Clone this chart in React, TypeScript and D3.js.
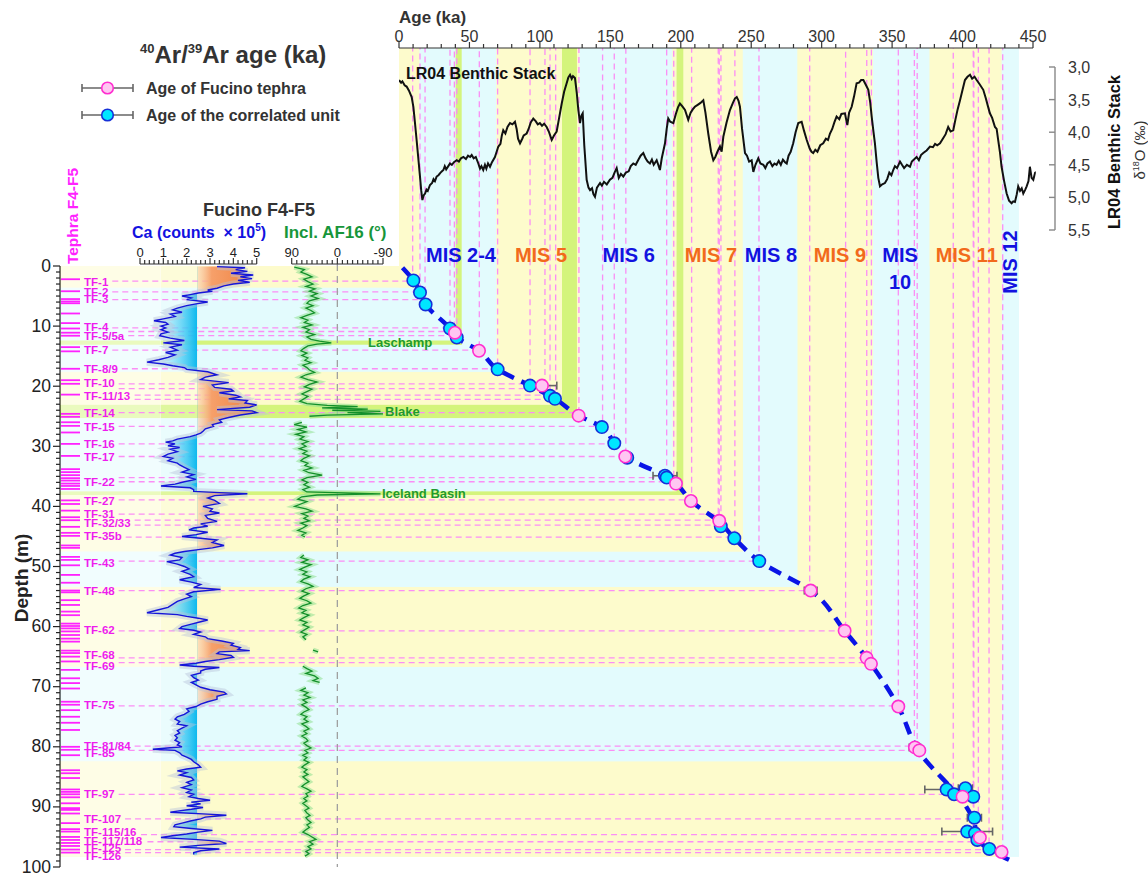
import React from "react";
import * as d3 from "d3";

const FONT = "'Liberation Sans', Arial, Helvetica, sans-serif";

// ---------- DATA ----------
// MIS stages: age range (ka) and depth range (m) in the Fucino core
const misStages = [
  { a1: 0, a2: 14.5, d1: 0, d2: 3.6, warm: true },
  { a1: 14.5, a2: 69, d1: 3.6, d2: 17.6, warm: false },
  { a1: 69, a2: 128, d1: 17.6, d2: 25.3, warm: true },
  { a1: 128, a2: 194, d1: 25.3, d2: 37.8, warm: false },
  { a1: 194, a2: 244, d1: 37.8, d2: 47.5, warm: true },
  { a1: 244, a2: 282.7, d1: 47.5, d2: 53.4, warm: false },
  { a1: 282.7, a2: 336.5, d1: 53.4, d2: 66.7, warm: true },
  { a1: 336.5, a2: 376.5, d1: 66.7, d2: 82.4, warm: false },
  { a1: 376.5, a2: 427.7, d1: 82.4, d2: 98.3, warm: true },
  { a1: 427.7, a2: 440, d1: 98.3, d2: 98.3, warm: false },
];

const misLabels = [
  { text: "MIS 2-4", age: 44, warm: false },
  { text: "MIS 5", age: 100.8, warm: true },
  { text: "MIS 6", age: 163, warm: false },
  { text: "MIS 7", age: 221.4, warm: true },
  { text: "MIS 8", age: 264, warm: false },
  { text: "MIS 9", age: 313, warm: true },
  { text: "MIS 10", age: 355.6, warm: false },
  { text: "MIS 11", age: 403, warm: true },
  { text: "MIS 12", age: 433.6, warm: false },
];

// geomagnetic excursions
const excursions = [
  { name: "Laschamp", a1: 40.2, a2: 44.5, d1: 12.4, d2: 13.1 },
  { name: "Blake", a1: 115.7, a2: 126.3, d1: 23.1, d2: 25.3 },
  { name: "Iceland Basin", a1: 197, a2: 201.8, d1: 37.5, d2: 38.1 },
];

// LR04 benthic stack [age ka, d18O permil]
const lr04: [number, number][] = [
  [0, 3.2], [1.5, 3.24], [2.4, 3.22], [4, 3.28], [5.4, 3.3], [7, 3.36], [9, 3.46], [10.2, 3.61],
  [11.3, 3.85], [12.5, 4.12], [13.7, 4.4], [14.9, 4.68], [15.8, 4.9], [16.6, 5.04], [17.5, 4.97],
  [18.5, 4.94], [19.5, 4.88], [20.4, 4.9], [22, 4.81], [23.5, 4.78], [24.5, 4.72], [25.5, 4.75],
  [26.7, 4.68], [28, 4.66], [29.5, 4.62], [30.5, 4.6], [31.5, 4.58], [32.5, 4.52], [33.5, 4.57],
  [35, 4.52], [36.2, 4.48], [37.5, 4.5], [39, 4.46], [41, 4.43], [42.5, 4.45], [44, 4.4],
  [45.7, 4.38], [47.5, 4.41], [49, 4.36], [50.5, 4.38], [51.6, 4.35], [53, 4.4], [54.5, 4.38],
  [56.3, 4.48], [57.5, 4.56], [58.5, 4.52], [59.8, 4.58], [61, 4.5], [62, 4.56], [63.2, 4.48],
  [64.6, 4.53], [66, 4.46], [68.1, 4.38], [69.3, 4.3], [70.5, 4.22], [72, 4.18], [73, 4.05],
  [74, 3.97], [75.5, 4.02], [77, 3.92], [78.8, 3.86], [80.5, 3.88], [82.3, 3.84], [83.5, 3.95],
  [84.5, 4.1], [85.9, 4.17], [87.5, 4.1], [88.5, 4.05], [90.6, 4.02], [92, 3.95], [93.5, 3.85],
  [95.3, 3.79], [97, 3.83], [98.5, 3.88], [100, 3.86], [101.5, 3.9], [103, 3.87], [104.8, 3.92],
  [106.5, 4.0], [108.4, 4.12], [110, 4.05], [111.9, 3.99], [113.5, 3.8], [115.5, 3.56],
  [117.2, 3.38], [119, 3.25], [120.2, 3.16], [121.4, 3.12], [122.6, 3.18], [123.5, 3.14],
  [124.9, 3.17], [126.2, 3.4], [127.3, 3.66], [128.5, 3.86], [129.4, 3.75], [130.4, 3.71],
  [131.5, 4.2], [133.2, 4.73], [134.5, 4.85], [135.6, 4.89], [137, 4.86], [138, 4.95],
  [139.1, 4.99], [140.5, 4.85], [142.7, 4.78], [144, 4.82], [145.5, 4.76], [147.5, 4.8],
  [149.7, 4.73], [151.5, 4.7], [153, 4.62], [154.5, 4.55], [156, 4.7], [157.5, 4.64],
  [159.2, 4.68], [161, 4.62], [163, 4.6], [164.5, 4.52], [166.3, 4.48], [168, 4.5], [170, 4.42],
  [171.5, 4.36], [173.4, 4.32], [175, 4.4], [176.5, 4.45], [178.1, 4.48], [179.5, 4.42],
  [180.8, 4.5], [182.9, 4.43], [184, 4.5], [185.2, 4.58], [186.5, 4.4], [188.8, 4.17],
  [190, 3.95], [191.1, 3.79], [192.5, 3.84], [194.7, 3.86], [196.5, 3.72], [198, 3.62],
  [199.4, 3.56], [201, 3.6], [203, 3.66], [205.3, 3.81], [207, 3.7], [208.5, 3.65], [210, 3.61],
  [212, 3.58], [214, 3.55], [216, 3.51], [217.5, 3.7], [219.5, 4.02], [221.5, 4.3], [223.1, 4.43],
  [224.5, 4.38], [226, 4.3], [227.8, 4.22], [229, 4.3], [230.2, 4.07], [232.5, 3.85], [234.9, 3.66],
  [237, 3.55], [238.5, 3.48], [239.7, 3.46], [241, 3.52], [242, 3.61], [243.5, 3.95], [245.6, 4.32],
  [247, 4.36], [248.5, 4.45], [250.3, 4.43], [251.5, 4.61], [253, 4.5], [255, 4.4], [256.5, 4.48],
  [258.6, 4.5], [260, 4.55], [261.5, 4.48], [263.3, 4.45], [265, 4.52], [266.5, 4.48], [268, 4.5],
  [269.5, 4.44], [271, 4.5], [272.5, 4.42], [274, 4.46], [275.2, 4.48], [276.5, 4.36],
  [278, 4.3], [279.8, 4.17], [281.5, 4.0], [283.4, 3.86], [285.8, 3.84], [287.5, 3.98],
  [289.4, 4.12], [291.5, 4.25], [292.8, 4.3], [294, 4.32], [295.5, 4.27], [297, 4.3],
  [299, 4.2], [301.1, 4.17], [303, 4.1], [304.5, 4.12], [305.9, 4.02], [307.5, 3.95],
  [309, 3.85], [310.6, 3.76], [312.5, 3.8], [314, 3.72], [316.5, 3.71], [318.2, 3.89],
  [319.5, 3.7], [321.3, 3.61], [323, 3.45], [324.8, 3.25], [326.5, 3.24], [328, 3.2],
  [329.6, 3.2], [331.5, 3.28], [333.1, 3.35], [334.5, 3.55], [335.5, 3.76], [336.8, 4.0],
  [337.8, 4.17], [339, 4.45], [340.2, 4.7], [341.4, 4.83], [343, 4.8], [344.9, 4.78],
  [346.5, 4.72], [348, 4.62], [349.5, 4.66], [350.8, 4.58], [352, 4.52], [353.5, 4.55],
  [355.6, 4.45], [357, 4.5], [358.5, 4.55], [360.5, 4.5], [362.7, 4.53], [364, 4.45],
  [365.5, 4.42], [367.4, 4.38], [369, 4.43], [370.5, 4.35], [372.1, 4.32], [374.5, 4.28],
  [376.9, 4.22], [379, 4.23], [380.5, 4.18], [382, 4.2], [384, 4.17], [386, 4.1], [388, 4.03],
  [389.8, 3.92], [391.5, 3.99], [393.4, 3.97], [395, 3.8], [396.5, 3.65], [398.2, 3.51],
  [400, 3.35], [401.7, 3.2], [403.5, 3.15], [405.3, 3.12], [406.8, 3.18], [408.5, 3.15],
  [410, 3.2], [412, 3.26], [414.7, 3.35], [416.5, 3.48], [418, 3.6], [419.4, 3.71],
  [421, 3.78], [423, 3.92], [424.2, 3.95], [425.3, 4.12], [426.5, 4.3], [427.7, 4.53],
  [429.5, 4.75], [431.3, 4.94], [433, 5.05], [434.8, 5.09], [436, 5.06], [437.2, 5.07],
  [438.5, 4.95], [439.5, 4.83], [440.8, 4.9], [442, 4.86], [443.1, 4.94], [444.5, 4.88],
  [445.5, 4.83], [446.8, 4.75], [447.8, 4.53], [449, 4.7], [450.2, 4.73], [451.5, 4.62],
  [452.6, 4.61],
];

// Ca XRF [depth m, counts x1e5]
const caData: [number, number][] = [
  [0.1, 3.3], [0.3, 4.5], [0.6, 4.1], [0.9, 4.6], [1.2, 3.9], [1.5, 4.85], [1.8, 4.3], [2.1, 4.8],
  [2.4, 4.2], [2.7, 4.7], [3.0, 4.0], [3.3, 3.6], [3.7, 3.3], [4.0, 2.9], [4.2, 3.1], [4.5, 2.5],
  [4.8, 2.1], [5.0, 1.8], [5.3, 2.2], [5.6, 2.0], [6.0, 2.9], [6.3, 2.4], [6.6, 2.0], [7.0, 1.6],
  [7.3, 1.4], [7.7, 1.8], [8.0, 1.3], [8.4, 1.5], [8.8, 1.0], [9.1, 0.6], [9.4, 1.1], [9.7, 1.2],
  [10.0, 0.9], [10.3, 1.1], [10.6, 0.9], [11.0, 1.2], [11.3, 0.9], [11.6, 0.85], [12.0, 1.3],
  [12.4, 1.9], [12.8, 1.0], [13.1, 1.8], [13.5, 1.3], [14.0, 1.6], [14.4, 1.1], [14.8, 1.5],
  [15.2, 1.2], [15.6, 0.8], [16.0, 0.3], [16.3, 1.0], [16.6, 1.4], [16.9, 1.9], [17.2, 2.0],
  [17.6, 2.9], [18.1, 3.3], [18.5, 2.8], [18.9, 2.6], [19.4, 3.8], [19.8, 3.1], [20.2, 3.2],
  [20.5, 3.9], [20.8, 4.0], [21.1, 3.4], [21.5, 4.1], [21.8, 4.3], [22.1, 3.8], [22.4, 4.6],
  [22.8, 4.5], [23.1, 5.0], [23.5, 4.7], [23.9, 3.3], [24.1, 4.8], [24.4, 5.0], [24.8, 4.3],
  [25.2, 3.8], [25.6, 3.4], [26.0, 3.5], [26.4, 3.1], [26.7, 3.15], [27.1, 2.8], [27.5, 2.7],
  [27.8, 2.6], [28.1, 2.4], [28.4, 2.15], [28.8, 1.6], [29.1, 1.4], [29.3, 1.1], [29.6, 1.5],
  [29.9, 1.2], [30.2, 1.7], [30.5, 1.3], [30.9, 1.6], [31.3, 1.2], [31.7, 1.0], [32.0, 1.4],
  [32.4, 1.2], [32.8, 1.6], [33.1, 1.7], [33.5, 1.9], [33.9, 2.1], [34.3, 1.8], [34.7, 2.3],
  [35.1, 2.0], [35.5, 2.4], [35.9, 1.9], [36.3, 1.5], [36.6, 0.9], [36.9, 2.15], [37.2, 2.3],
  [37.5, 2.3], [37.7, 3.4], [37.9, 4.6], [38.2, 3.2], [38.6, 2.9], [39.0, 3.2], [39.5, 3.4],
  [40.0, 2.7], [40.4, 3.1], [40.8, 3.0], [41.1, 3.4], [41.5, 2.8], [42.0, 2.9], [42.5, 3.3],
  [42.9, 2.6], [43.3, 2.9], [43.6, 2.3], [43.9, 2.1], [44.3, 2.9], [44.7, 2.4], [45.0, 1.8],
  [45.3, 2.6], [45.6, 3.3], [46.0, 3.1], [46.5, 3.6], [46.9, 3.1], [47.2, 2.5], [47.5, 1.9],
  [47.8, 1.5], [48.1, 1.3], [48.5, 1.8], [48.9, 1.7], [49.2, 1.15], [49.6, 1.6], [50.0, 1.9],
  [50.4, 2.1], [50.8, 1.8], [51.3, 2.15], [51.7, 2.3], [52.2, 1.7], [52.6, 2.2], [53.0, 2.6],
  [53.5, 2.3], [53.8, 3.45], [54.2, 2.3], [54.6, 2.0], [55.0, 2.2], [55.4, 1.9], [55.8, 1.6],
  [56.3, 1.4], [56.8, 1.2], [57.2, 0.8], [57.7, 0.3], [58.0, 1.6], [58.3, 2.0], [58.6, 2.5],
  [58.9, 2.9], [59.2, 2.6], [59.6, 2.2], [60.0, 1.8], [60.3, 1.7], [60.6, 2.3], [60.9, 2.6],
  [61.3, 2.3], [61.7, 2.8], [62.0, 2.9], [62.4, 3.5], [62.8, 4.0], [63.1, 3.9], [63.5, 4.3],
  [63.8, 4.2], [64.0, 4.7], [64.2, 3.4], [64.5, 3.3], [64.8, 3.9], [65.1, 4.0], [65.5, 3.4],
  [65.8, 2.8], [66.1, 2.4], [66.4, 1.7], [66.6, 2.3], [66.8, 3.4], [67.1, 2.8], [67.4, 2.6],
  [67.7, 2.6], [68.1, 2.2], [68.5, 2.3], [68.9, 2.5], [69.3, 2.2], [69.7, 2.4], [70.1, 2.6],
  [70.5, 3.0], [70.9, 3.6], [71.2, 3.7], [71.6, 3.3], [72.1, 3.3], [72.5, 2.9], [72.9, 2.6],
  [73.3, 2.4], [73.7, 2.0], [74.1, 2.1], [74.6, 1.9], [75.0, 1.6], [75.4, 1.5], [75.8, 1.7],
  [76.2, 1.6], [76.5, 2.0], [76.9, 1.8], [77.3, 1.6], [77.7, 1.7], [78.1, 1.5], [78.5, 1.6],
  [78.9, 1.5], [79.3, 1.7], [79.7, 1.6], [80.0, 1.8], [80.4, 0.55], [80.6, 1.5], [81.0, 1.7],
  [81.4, 1.8], [81.7, 2.0], [82.1, 2.2], [82.5, 2.3], [83.0, 2.5], [83.4, 2.6], [83.7, 2.0],
  [84.0, 1.6], [84.3, 2.0], [84.7, 1.7], [85.1, 2.2], [85.5, 2.3], [85.9, 2.0], [86.3, 2.2],
  [86.8, 1.8], [87.2, 2.2], [87.6, 2.0], [87.9, 2.3], [88.3, 2.1], [88.6, 2.5], [88.9, 3.0],
  [89.2, 2.2], [89.5, 2.6], [89.8, 2.0], [90.1, 2.7], [90.4, 2.2], [90.7, 1.6], [90.9, 1.3],
  [91.2, 2.9], [91.4, 3.7], [91.7, 2.8], [92.0, 2.6], [92.3, 2.2], [92.7, 1.8], [93.0, 1.5],
  [93.3, 1.45], [93.6, 2.2], [93.9, 3.1], [94.2, 2.5], [94.5, 2.0], [94.8, 1.4], [95.1, 0.9],
  [95.4, 2.3], [95.7, 3.4], [96.1, 3.7], [96.4, 2.5], [96.7, 1.7], [97.0, 3.4], [97.3, 2.6],
  [97.6, 2.3], [97.9, 2.3],
];
const caBaseline = 2.45;

// Inclination AF16 [depth m, incl deg]; NaN marks a gap
const inclData: [number, number][] = [
  [0.2, 85], [0.6, 65], [1.0, 72], [1.4, 60], [1.8, 50], [2.2, 66], [2.6, 58], [3.0, 48], [3.4, 62],
  [3.8, 44], [4.2, 55], [4.6, 40], [5.0, 52], [5.4, 38], [5.8, 55], [6.2, 60], [6.6, 48], [7.0, 62],
  [7.4, 52], [7.8, 45], [8.2, 60], [8.6, 72], [9.0, 58], [9.4, 65], [9.8, 50], [10.2, 68], [10.6, 55],
  [11.0, 62], [11.4, 45], [11.8, 60], [12.2, 52], [12.5, 35], [12.8, 12], [13.0, 40], [13.3, 58],
  [13.7, 66], [14.1, 72], [14.5, 60], [14.9, 70], [15.3, 58], [15.7, 64], [16.1, 52], [16.5, 68],
  [16.9, 60], [17.3, 55], [17.7, 45], [18.1, 62], [18.5, 72], [18.9, 58], [19.3, 40], [19.7, 55],
  [20.1, 65], [20.5, 50], [20.9, 60], [21.3, 70], [21.7, 58], [22.1, 66], [22.5, 74], [22.9, 60],
  [23.2, 20], [23.4, -40], [23.6, 30], [23.8, -60], [24.0, 10], [24.2, -85], [24.4, -20],
  [24.6, -90], [24.8, 20], [25.0, 55], [NaN, NaN],
  [26.0, 70], [26.4, 85], [26.8, 60], [27.2, 78], [27.6, 62], [28.0, 82], [28.4, 66], [28.8, 74],
  [29.2, 58], [29.6, 70], [30.0, 62], [30.4, 75], [30.8, 60], [31.2, 68], [31.6, 55], [32.0, 66],
  [32.4, 72], [32.8, 58], [33.2, 64], [33.6, 50], [34.0, 66], [34.4, 56], [34.8, 30], [35.2, 60],
  [35.6, 70], [36.0, 58], [36.4, 66], [36.8, 55], [37.2, 68], [37.6, 60], [37.9, -85], [38.1, 40],
  [38.4, 70], [38.8, 78], [39.2, 60], [39.6, 72], [40.0, 84], [40.4, 62], [40.8, 50], [41.2, 70],
  [41.6, 58], [42.0, 66], [42.4, 55], [42.8, 72], [43.2, 60], [43.6, 68], [44.0, 78], [44.4, 62],
  [44.8, 70], [45.1, 64], [NaN, NaN],
  [48.1, 66], [48.5, 72], [48.9, 58], [49.3, 70], [49.7, 52], [50.1, 64], [50.5, 74], [50.9, 60],
  [51.3, 68], [51.7, 54], [52.1, 66], [52.5, 72], [52.9, 58], [53.3, 48], [53.7, 62], [54.1, 70],
  [54.5, 56], [54.9, 66], [55.3, 74], [55.7, 60], [56.1, 52], [56.5, 68], [56.9, 76], [57.3, 62],
  [57.7, 70], [58.1, 56], [58.5, 66], [58.9, 74], [59.3, 60], [59.7, 68], [60.1, 56], [60.5, 64],
  [60.9, 72], [61.3, 60], [61.7, 68], [62.2, 62], [NaN, NaN],
  [63.9, 48], [64.2, 38], [NaN, NaN],
  [66.6, 68], [67.0, 60], [67.4, 50], [67.8, 62], [68.2, 45], [68.6, 38], [69.0, 48], [69.3, 35],
  [NaN, NaN],
  [70.2, 62], [70.6, 72], [71.0, 58], [71.4, 66], [71.8, 54], [72.2, 68], [72.6, 60], [73.0, 70],
  [73.4, 62], [73.8, 56], [74.2, 66], [74.6, 72], [75.0, 60], [75.4, 66], [75.8, 58], [76.2, 70],
  [76.6, 62], [77.0, 56], [77.4, 66], [77.8, 60], [78.2, 70], [78.6, 62], [79.0, 58], [79.4, 66],
  [79.8, 60], [80.2, 52], [80.6, 64], [81.0, 58], [81.4, 68], [81.8, 60], [82.2, 66], [82.6, 56],
  [83.0, 64], [83.4, 70], [83.8, 60], [84.2, 66], [84.6, 58], [85.0, 68], [85.4, 62], [85.8, 56],
  [86.2, 64], [86.6, 70], [87.0, 60], [87.4, 52], [87.8, 62], [88.2, 58], [88.6, 66], [89.0, 60],
  [89.4, 68], [89.8, 62], [90.2, 56], [90.6, 64], [91.0, 60], [91.4, 54], [91.8, 62], [92.2, 58],
  [92.6, 52], [93.0, 60], [93.4, 55], [93.8, 62], [94.2, 68], [94.6, 58], [95.0, 50], [95.4, 42],
  [95.8, 55], [96.2, 48], [96.6, 58], [97.0, 52], [97.4, 62], [97.8, 56], [98.2, 64],
];

// all tephra layers (depth m) in F4-F5
const tephraDepths = [
  2.2, 4.2, 5.5, 5.9, 6.2, 7.9, 9.5, 10.4, 11.1, 11.6, 13.5, 14.2, 17.1, 19.0, 19.6, 21.4, 24.6,
  25.1, 26.0, 26.6, 27.7, 29.6, 31.6, 33.8, 34.3, 34.8, 35.3, 35.7, 36.2, 36.6, 37.1, 39.0, 39.6,
  40.7, 41.8, 42.3, 43.4, 44.4, 44.9, 46.5, 46.9, 48.4, 48.9, 49.8, 51.4, 52.7, 54.0, 54.3, 55.6,
  56.4, 57.5, 58.1, 59.5, 59.9, 60.3, 60.8, 61.4, 62.0, 62.5, 64.0, 64.4, 65.0, 65.8, 67.2, 68.6,
  69.4, 70.3, 72.5, 73.0, 73.9, 75.0, 76.0, 77.2, 80.0, 80.5, 81.4, 83.9, 84.4, 85.2, 87.1, 87.5,
  87.9, 88.4, 89.4, 90.2, 90.5, 91.1, 92.7, 93.7, 94.1, 95.0, 95.5, 96.0, 96.5, 97.1, 97.6,
];

// labelled tephra [name, depth]
const tephraLabels: [string, number][] = [
  ["TF-1", 2.6], ["TF-2", 4.3], ["TF-3", 5.5], ["TF-4", 10.1], ["TF-5/5a", 11.6], ["TF-7", 14.0],
  ["TF-8/9", 17.1], ["TF-10", 19.5], ["TF-11/13", 21.6], ["TF-14", 24.4], ["TF-15", 26.8],
  ["TF-16", 29.7], ["TF-17", 31.7], ["TF-22", 35.9], ["TF-27", 39.1], ["TF-31", 41.3],
  ["TF-32/33", 42.8], ["TF-35b", 44.9], ["TF-43", 49.4], ["TF-48", 54.1], ["TF-62", 60.6],
  ["TF-68", 64.7], ["TF-69", 66.6], ["TF-75", 73.0], ["TF-81/84", 79.9], ["TF-85", 81.1],
  ["TF-97", 87.9], ["TF-107", 92.0], ["TF-115/16", 94.2], ["TF-117/118", 95.6], ["TF-125", 96.9],
  ["TF-126", 98.2],
];

// correlation lines [depth m, age ka]
const tephraLinks: [number, number][] = [
  [2.5, 9.7], [4.3, 14.9], [5.6, 18.5], [10.3, 36.2], [10.9, 39.3], [11.6, 41], [14.0, 57], [17.1, 70],
  [19.6, 93], [20.4, 103.6], [21.5, 107.2], [22.2, 111.2], [24.4, 127.7], [26.7, 144.5], [29.6, 152.8],
  [31.7, 161], [35.2, 190], [35.9, 195], [38.9, 207.7], [41.3, 226.6], [42.3, 227.3], [43.1, 228.5],
  [45.1, 238.4], [49.1, 255.5], [54.0, 291.5], [60.7, 317], [65.2, 332], [66.0, 335.3], [73.2, 354.4],
  [79.9, 365.8], [80.6, 367.8], [87.9, 393.4], [92.0, 408], [94.6, 407.6], [95.8, 411.2],
  [97.1, 418.8], [97.6, 428.5],
];

// correlated-unit ages (cyan) [depth, age, err]
const unitAges: [number, number, number][] = [
  [2.4, 10.2, 0], [4.4, 14.9, 0], [6.4, 18.9, 0], [10.4, 36.2, 0], [11.9, 41, 0], [17.2, 70, 0],
  [19.9, 93, 0], [21.6, 107.2, 0], [22.1, 110.7, 0], [26.8, 144, 0], [29.5, 152.8, 0], [31.9, 162, 0],
  [34.9, 188.8, 8.5], [35.2, 190, 0], [43.3, 228.4, 0], [45.3, 238, 0], [49.1, 255.7, 0],
  [87.1, 388.7, 15.5], [87.9, 394, 0], [86.9, 402, 5], [88.3, 407.6, 3], [91.8, 408.4, 5],
  [94.1, 403.3, 18], [94.4, 408.8, 0], [95.5, 410.5, 0], [97.0, 419, 0],
];

// Fucino tephra 40Ar/39Ar ages (pink) [depth, age, err]
const tephraAges: [number, number, number][] = [
  [11.1, 39.7, 0], [14.1, 56.8, 0], [19.9, 101.5, 10.5], [24.9, 127.5, 0], [31.7, 160.6, 0],
  [36.2, 196.6, 0], [39.1, 207.2, 3.5], [42.4, 227.3, 0], [54.0, 292.2, 4.5], [60.7, 316.3, 0],
  [65.2, 331.9, 0], [66.2, 335, 0], [73.3, 354.4, 0], [80.1, 366.2, 4], [80.6, 369.3, 0],
  [88.3, 400, 0], [95.1, 412.3, 0], [97.5, 427.7, 0],
];

// age-depth model [depth, age]
const ageModel: [number, number][] = [
  [0.3, 2.5], [2.4, 10.2], [4.4, 14.9], [6.4, 18.9], [10.4, 36.2], [11.9, 41], [14.1, 56.8],
  [17.2, 70], [19.9, 93], [22.1, 110.7], [24.9, 127.5], [26.8, 144], [29.5, 152.8], [31.8, 161.5],
  [35.0, 189], [36.2, 196.6], [39.1, 207.2], [42.6, 227.5], [45.3, 238], [49.1, 255.7],
  [54.0, 292.2], [60.7, 316.3], [65.2, 331.9], [66.2, 335], [73.3, 354.4], [80.4, 368],
  [90.0, 402.7], [92.0, 407.5], [95.5, 411], [96.5, 415.5], [98.8, 433],
];

const o18Ticks = [3.0, 3.5, 4.0, 4.5, 5.0, 5.5];

// ---------- COLORS ----------
const C_WARM = "#fdfbcc";
const C_COLD = "#e3fbfd";
const C_GREEN = "#d4f47c";
const C_PINKLINE = "#fb8ef5";
const C_MAG = "#ee1cee";
const C_BLUE = "#1212e0";
const C_ORANGE = "#f26a1b";

const labelW = (s: string, size: number) => {
  let w = 0;
  for (const c of s) {
    if (c === "T" || c === "F" || c === "b") w += 0.611;
    else if (c === "-") w += 0.333;
    else if (c === "/") w += 0.278;
    else w += 0.556;
  }
  return w * size;
};

export default function App() {
  const xAge = d3.scaleLinear().domain([0, 450]).range([399, 1033]);
  const yD = d3.scaleLinear().domain([0, 100]).range([266, 867]);
  const yO = d3.scaleLinear().domain([3, 5.5]).range([67, 230]);
  const xCa = d3.scaleLinear().domain([0, 5]).range([140, 256.7]);
  const xInc = d3.scaleLinear().domain([90, -90]).range([291.7, 383]);
  const TOP = 48;
  const LEFT = 60;
  const LBLX = 84;
  const LBL_SIZE = 11.5;

  const lrLine = d3.line<[number, number]>().x((d) => xAge(d[0])).y((d) => yO(d[1]));
  const caLine = d3.line<[number, number]>().x((d) => xCa(d[1])).y((d) => yD(d[0]));
  const caArea = d3
    .area<[number, number]>()
    .y((d) => yD(d[0]))
    .x0(xCa(caBaseline))
    .x1((d) => xCa(d[1]));
  const incLine = d3
    .line<[number, number]>()
    .defined((d) => !isNaN(d[1]))
    .x((d) => xInc(d[1]))
    .y((d) => yD(d[0]));
  const modelLine = d3
    .line<[number, number]>()
    .curve(d3.curveMonotoneY)
    .x((d) => xAge(d[1]))
    .y((d) => yD(d[0]));

  const stagesRev = [...misStages].reverse();
  const baseX = xCa(caBaseline);

  const linkStart = (depth: number) => {
    let best: [string, number] | null = null;
    let bd = 1e9;
    for (const l of tephraLabels) {
      const dd = Math.abs(l[1] - depth);
      if (dd < bd) {
        bd = dd;
        best = l;
      }
    }
    if (best && bd < 0.9) return LBLX + labelW(best[0], LBL_SIZE) + 4;
    return 122;
  };

  const errBar = (d: [number, number, number], k: string) => {
    if (!d[2]) return null;
    const y = yD(d[0]);
    const x1 = xAge(d[1] - d[2]);
    const x2 = xAge(d[1] + d[2]);
    return (
      <g key={k} stroke="#666" strokeWidth={1.6}>
        <line x1={x1} x2={x2} y1={y} y2={y} />
        <line x1={x1} x2={x1} y1={y - 4} y2={y + 4} />
        <line x1={x2} x2={x2} y1={y - 4} y2={y + 4} />
      </g>
    );
  };

  return (
    <svg
      width={1148}
      height={874}
      style={{ position: "absolute", left: 0, top: 0, background: "#fff" }}
      fontFamily={FONT}
    >
      <defs>
        <linearGradient id="cyanG" gradientUnits="userSpaceOnUse" x1={150} x2={baseX} y1={0} y2={0}>
          <stop offset="0" stopColor="#bdeeff" stopOpacity={0.1} />
          <stop offset="0.6" stopColor="#5fd3f6" stopOpacity={0.75} />
          <stop offset="1" stopColor="#0bb8ee" stopOpacity={1} />
        </linearGradient>
        <linearGradient id="orangeG" gradientUnits="userSpaceOnUse" x1={baseX} x2={255} y1={0} y2={0}>
          <stop offset="0" stopColor="#fbd2b0" stopOpacity={0.6} />
          <stop offset="0.25" stopColor="#f6a06a" stopOpacity={1} />
          <stop offset="1" stopColor="#f0803f" stopOpacity={1} />
        </linearGradient>
        <clipPath id="clipR">
          <rect x={baseX} y={260} width={80} height={610} />
        </clipPath>
        <clipPath id="clipL">
          <rect x={120} y={260} width={baseX - 120} height={610} />
        </clipPath>
        <clipPath id="clipLR">
          <rect x={xAge(0)} y={TOP} width={xAge(452) - xAge(0)} height={200} />
        </clipPath>
      </defs>

      {/* MIS background bands */}
      {stagesRev.map((s, i) => (
        <g key={"st" + i} fill={s.warm ? C_WARM : C_COLD}>
          <rect x={xAge(0)} y={TOP} width={xAge(s.a2) - xAge(0)} height={yD(s.d2) - TOP} />
          <rect x={LEFT} y={yD(0)} width={xAge(s.a2) - LEFT} height={yD(s.d2) - yD(0)} />
        </g>
      ))}
      {/* excursion bands */}
      {excursions.map((e, i) => (
        <g key={"ex" + i} fill={C_GREEN}>
          <rect x={xAge(e.a1)} y={TOP} width={xAge(e.a2) - xAge(e.a1)} height={yD(e.d2) - TOP} />
          <rect x={LEFT} y={yD(e.d1)} width={xAge(e.a2) - LEFT} height={yD(e.d2) - yD(e.d1)} />
        </g>
      ))}
      {/* pale overlay on the left part of the core panel */}
      <rect x={LEFT + 1} y={yD(0)} width={100} height={yD(98.3) - yD(0)} fill="#fff" opacity={0.5} />
      <rect x={160} y={yD(0)} width={baseX - 160} height={yD(98.3) - yD(0)} fill="#fff" opacity={0.25} />

      {/* tephra correlation lines */}
      {tephraLinks.map((t, i) => {
        const y = yD(t[0]);
        const x = xAge(t[1]);
        return (
          <path
            key={"lk" + i}
            d={`M${linkStart(t[0])},${y}H${x}V${TOP}`}
            fill="none"
            stroke={C_PINKLINE}
            strokeWidth={1.3}
            strokeDasharray="6,4"
          />
        );
      })}

      {/* Ca panel */}
      <path d={caArea(caData) || ""} fill="url(#orangeG)" clipPath="url(#clipR)" />
      <path d={caArea(caData) || ""} fill="url(#cyanG)" clipPath="url(#clipL)" />
      <path d={caLine(caData) || ""} fill="none" stroke="#b9c3d9" strokeWidth={7} opacity={0.45} />
      <path d={caLine(caData) || ""} fill="none" stroke="#1515d8" strokeWidth={1.4} />

      {/* Inclination panel */}
      <line x1={xInc(0)} x2={xInc(0)} y1={264} y2={867} stroke="#a0a0a0" strokeWidth={1.3} strokeDasharray="7,5" />
      <path d={incLine(inclData) || ""} fill="none" stroke="#8fe08f" strokeWidth={5} opacity={0.55} />
      <path d={incLine(inclData) || ""} fill="none" stroke="#13902a" strokeWidth={1.3} />

      {/* axes for Ca and Incl */}
      <g stroke="#333" strokeWidth={1.2}>
        <line x1={xCa(0)} x2={xCa(5)} y1={264} y2={264} />
        {d3.range(0, 5.01, 0.2).map((v, i) => (
          <line key={"cat" + i} x1={xCa(v)} x2={xCa(v)} y1={264} y2={Math.abs(v - Math.round(v)) < 0.01 ? 258 : 260} />
        ))}
        <line x1={xInc(90)} x2={xInc(-90)} y1={264} y2={264} />
        {d3.range(-90, 90.1, 10).map((v, i) => (
          <line key={"it" + i} x1={xInc(v)} x2={xInc(v)} y1={264} y2={v % 90 === 0 ? 258 : 260} />
        ))}
      </g>
      <g fontSize={13} fill="#222" textAnchor="middle">
        {d3.range(0, 6).map((v) => (
          <text key={"cal" + v} x={xCa(v)} y={257}>
            {v}
          </text>
        ))}
        {[90, 0, -90].map((v) => (
          <text key={"il" + v} x={xInc(v)} y={257}>
            {v}
          </text>
        ))}
      </g>
      <text x={259} y={216} textAnchor="middle" fontSize={18} fontWeight="bold" fill="#333">
        Fucino F4-F5
      </text>
      <text x={132} y={238} fontSize={16} fontWeight="bold" fill={C_BLUE}>
        Ca (counts {"\u00A0"}× 10
        <tspan fontSize={10} dy={-7}>
          5
        </tspan>
        <tspan dy={7}>)</tspan>
      </text>
      <text x={284} y={238} fontSize={17} fontWeight="bold" fill="#17963a">
        Incl. AF16 (°)
      </text>

      {/* excursion labels */}
      <g fontSize={13} fontWeight="bold" fill="#1f9a2e">
        <text x={368} y={yD(12.8) + 4.5}>Laschamp</text>
        <text x={385} y={yD(24.2) + 4.5}>Blake</text>
        <text x={382} y={yD(37.8) + 4.5}>Iceland Basin</text>
      </g>

      {/* depth axis */}
      <g stroke="#222" strokeWidth={1.2}>
        <line x1={LEFT} x2={LEFT} y1={yD(0)} y2={yD(100)} />
        {d3.range(0, 101, 1).map((v) => (
          <line key={"dt" + v} x1={v % 10 === 0 ? LEFT - 7 : LEFT - 4} x2={LEFT} y1={yD(v)} y2={yD(v)} />
        ))}
      </g>
      <g fontSize={17.5} fill="#222" textAnchor="end">
        {d3.range(0, 101, 10).map((v) => (
          <text key={"dl" + v} x={51} y={yD(v) + 5.5}>
            {v}
          </text>
        ))}
      </g>
      <text transform={`translate(28,${578}) rotate(-90)`} textAnchor="middle" fontSize={19} fontWeight="bold" fill="#222">
        Depth (m)
      </text>

      {/* tephra ticks */}
      <g stroke="#ff22ff" strokeWidth={1.8}>
        {tephraDepths.map((d, i) => (
          <line key={"tt" + i} x1={LEFT + 1} x2={80} y1={yD(d)} y2={yD(d)} />
        ))}
      </g>
      <text transform={`translate(78,${216}) rotate(-90)`} textAnchor="middle" fontSize={15.5} fontWeight="bold" fill="#ff22ff">
        Tephra F4-F5
      </text>
      <g fontSize={LBL_SIZE} fontWeight="bold" fill={C_MAG}>
        {tephraLabels.map((l, i) => (
          <text key={"tl" + i} x={LBLX} y={yD(l[1]) + 4}>
            {l[0]}
          </text>
        ))}
      </g>

      {/* LR04 */}
      <path d={lrLine(lr04) || ""} fill="none" stroke="#111" strokeWidth={2} clipPath="url(#clipLR)" />
      <text x={406} y={79} fontSize={16} fontWeight="bold" fill="#111">
        LR04 Benthic Stack
      </text>

      {/* top age axis */}
      <g stroke="#333" strokeWidth={1.2}>
        <line x1={xAge(0)} x2={xAge(450)} y1={TOP} y2={TOP} />
        {d3.range(0, 451, 10).map((v) => (
          <line key={"at" + v} x1={xAge(v)} x2={xAge(v)} y1={TOP} y2={v % 50 === 0 ? TOP - 6 : TOP - 4} />
        ))}
      </g>
      <g fontSize={16} fill="#333" textAnchor="middle">
        {d3.range(0, 451, 50).map((v) => (
          <text key={"al" + v} x={xAge(v)} y={42}>
            {v}
          </text>
        ))}
      </g>
      <text x={399} y={23} fontSize={17} fontWeight="bold" fill="#333">
        Age (ka)
      </text>

      {/* right d18O axis */}
      <g stroke="#888" strokeWidth={1.4}>
        <line x1={1055} x2={1055} y1={yO(3)} y2={yO(5.5)} />
        {o18Ticks.map((v) => (
          <line key={"ot" + v} x1={1049} x2={1055} y1={yO(v)} y2={yO(v)} />
        ))}
      </g>
      <g fontSize={16} fill="#333">
        {o18Ticks.map((v) => (
          <text key={"ol" + v} x={1068} y={yO(v) + 6}>
            {v.toFixed(1).replace(".", ",")}
          </text>
        ))}
      </g>
      <text transform={`translate(1120,152) rotate(-90)`} textAnchor="middle" fontSize={16.5} fontWeight="bold" fill="#111">
        LR04 Benthic Stack
      </text>
      <text transform={`translate(1145,150) rotate(-90)`} textAnchor="middle" fontSize={15} fill="#333">
        δ
        <tspan fontSize={9} dy={-6}>
          18
        </tspan>
        <tspan dy={6}>O (‰)</tspan>
      </text>

      {/* MIS labels */}
      <g fontSize={20} fontWeight="bold" textAnchor="middle">
        {misLabels.map((m, i) => {
          const fill = m.warm ? C_ORANGE : C_BLUE;
          const x = xAge(m.age);
          if (m.text === "MIS 12")
            return (
              <text key={"ml" + i} transform={`translate(${x + 7},262) rotate(-90)`} fill={fill}>
                {m.text}
              </text>
            );
          if (m.text === "MIS 10")
            return (
              <text key={"ml" + i} x={x} y={262} fill={fill}>
                MIS
                <tspan x={x} dy={27}>
                  10
                </tspan>
              </text>
            );
          return (
            <text key={"ml" + i} x={x} y={262} fill={fill}>
              {m.text}
            </text>
          );
        })}
      </g>

      {/* age-depth model */}
      <path d={modelLine(ageModel) || ""} fill="none" stroke="#0a14e6" strokeWidth={4.5} strokeDasharray="13,8" />

      {/* error bars */}
      {unitAges.map((d, i) => errBar(d, "ue" + i))}
      {tephraAges.map((d, i) => errBar(d, "te" + i))}
      {/* dots */}
      {unitAges.map((d, i) => (
        <circle key={"uc" + i} cx={xAge(d[1])} cy={yD(d[0])} r={6.2} fill="#00e6ff" stroke="#1530d8" strokeWidth={1.6} />
      ))}
      {tephraAges.map((d, i) => (
        <circle key={"tc" + i} cx={xAge(d[1])} cy={yD(d[0])} r={6.2} fill="#ffc6f2" stroke="#ff2ed0" strokeWidth={1.6} />
      ))}

      {/* legend */}
      <text x={140} y={63} fontSize={24} fontWeight="bold" fill="#333">
        <tspan fontSize={13} dy={-10}>
          40
        </tspan>
        <tspan dy={10}>Ar/</tspan>
        <tspan fontSize={13} dy={-10}>
          39
        </tspan>
        <tspan dy={10}>Ar age (ka)</tspan>
      </text>
      {[
        { y: 88, fill: "#ffc6f2", stroke: "#ff2ed0", text: "Age of Fucino tephra" },
        { y: 115, fill: "#00e6ff", stroke: "#1530d8", text: "Age of the correlated unit" },
      ].map((l, i) => (
        <g key={"lg" + i}>
          <g stroke="#666" strokeWidth={1.6}>
            <line x1={82} x2={133} y1={l.y} y2={l.y} />
            <line x1={82} x2={82} y1={l.y - 4} y2={l.y + 4} />
            <line x1={133} x2={133} y1={l.y - 4} y2={l.y + 4} />
          </g>
          <circle cx={107.5} cy={l.y} r={5.8} fill={l.fill} stroke={l.stroke} strokeWidth={1.6} />
          <text x={146} y={l.y + 6} fontSize={16} fontWeight="bold" fill="#333">
            {l.text}
          </text>
        </g>
      ))}
    </svg>
  );
}
